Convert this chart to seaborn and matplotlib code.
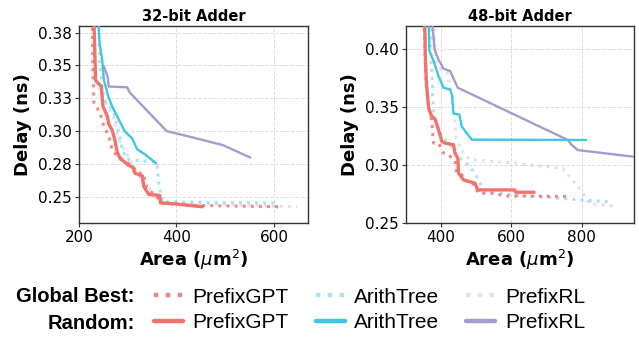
import matplotlib
matplotlib.use("Agg")
import matplotlib.pyplot as plt
from matplotlib.lines import Line2D
from matplotlib.ticker import FormatStrFormatter
import seaborn as sns

# ---- 32-bit adder (area um^2, delay ns) ----
gpt_rand_32_x = [230.7, 234, 238, 246, 249, 258, 261.5, 268, 273.7, 278.5, 285.3, 292, 302, 310.5,
                 314.6, 329.7, 333, 343.3, 365.8, 367.2, 400, 453]
gpt_rand_32_y = [0.385, 0.339, 0.337, 0.334, 0.319, 0.3115, 0.305, 0.301, 0.293, 0.284, 0.2786, 0.277,
                 0.274, 0.2725, 0.268, 0.266, 0.2577, 0.2518, 0.251, 0.2454, 0.2445, 0.2424]
gpt_best_32_x = [227.3, 228.7, 230.7, 237.5, 244.4, 251, 261.4, 268, 280.5, 297.6, 311, 318, 332, 339,
                 352, 366, 372, 430, 615]
gpt_best_32_y = [0.385, 0.3443, 0.3214, 0.3176, 0.3125, 0.3036, 0.296, 0.2857, 0.2805, 0.2765, 0.273,
                 0.2686, 0.2676, 0.2575, 0.2525, 0.2475, 0.245, 0.2435, 0.2424]
arith_rand_32_x = [239.6, 242.3, 247.8, 251, 260, 268, 281.9, 294.2, 309, 319.4, 336.5, 358.3]
arith_rand_32_y = [0.385, 0.3665, 0.354, 0.3393, 0.3265, 0.319, 0.3087, 0.2997, 0.2946, 0.2862, 0.282,
                   0.2755]
arith_best_32_x = [240, 242.3, 251, 264.8, 271.7, 281.9, 288.7, 299, 322.8, 357, 360.4, 363.8, 369.2,
                   370.6, 605]
arith_best_32_y = [0.385, 0.3495, 0.324, 0.3176, 0.3138, 0.2985, 0.2857, 0.2786, 0.2776, 0.2768, 0.273,
                   0.2602, 0.25, 0.2462, 0.2454]
rl_rand_32_x = [251, 259, 261, 299, 304, 380, 425, 495.6, 551.5]
rl_rand_32_y = [0.3495, 0.341, 0.334, 0.3334, 0.3295, 0.300, 0.296, 0.2893, 0.2799]
rl_best_32_x = [234, 250, 270, 280, 297, 320, 336, 350, 365, 372, 648]
rl_best_32_y = [0.339, 0.325, 0.311, 0.295, 0.283, 0.267, 0.26, 0.254, 0.249, 0.2455, 0.2424]

# ---- 48-bit adder ----
gpt_rand_48_x = [353.7, 356, 359, 365, 372.5, 384, 393, 402.7, 412, 435.7, 440, 448, 450, 464, 497,
                 504.6, 610, 613, 665]
gpt_rand_48_y = [0.425, 0.39, 0.37, 0.3494, 0.343, 0.3393, 0.3306, 0.3205, 0.319, 0.3176, 0.3104,
                 0.306, 0.2931, 0.2873, 0.2844, 0.2786, 0.2786, 0.2766, 0.2766]
gpt_best_48_x = [352, 358, 368, 374, 377, 379, 393, 407.5, 420, 440, 445, 460, 464, 497, 506.5, 550,
                 582, 760]
gpt_best_48_y = [0.425, 0.37, 0.345, 0.3379, 0.325, 0.319, 0.319, 0.3104, 0.309, 0.304, 0.293, 0.2915,
                 0.2873, 0.283, 0.2757, 0.2757, 0.2734, 0.273]
arith_rand_48_x = [365, 367, 379, 393, 407.5, 426, 431, 435.7, 452.7, 459, 473, 487.6, 813]
arith_rand_48_y = [0.425, 0.3986, 0.39, 0.3769, 0.3668, 0.3653, 0.361, 0.3445, 0.3436, 0.3335, 0.3277,
                   0.322, 0.3217]
arith_best_48_x = [370, 372, 375, 376, 379, 388.6, 402.7, 426, 440, 459.3, 483, 502, 516, 525, 600,
                   709, 800, 888]
arith_best_48_y = [0.425, 0.391, 0.377, 0.362, 0.345, 0.3335, 0.3248, 0.3176, 0.3104, 0.3046, 0.2988,
                   0.29, 0.2815, 0.2786, 0.2745, 0.272, 0.270, 0.2682]
rl_rand_48_x = [374.4, 382, 393, 407.5, 426, 448, 761, 770, 789, 950]
rl_rand_48_y = [0.425, 0.40, 0.391, 0.3832, 0.3812, 0.3668, 0.3217, 0.318, 0.313, 0.3072]
rl_best_48_x = [380, 384, 400, 418, 432, 440, 442, 455, 469, 487.6, 610, 747, 760, 799, 822, 902]
rl_best_48_y = [0.425, 0.39, 0.383, 0.3795, 0.36, 0.345, 0.325, 0.315, 0.3075, 0.3046, 0.3017, 0.2971,
                0.292, 0.2783, 0.2668, 0.2644]

methods = ["PrefixGPT", "ArithTree", "PrefixRL"]
colors = {"PrefixGPT": "#F2726C", "ArithTree": "#3EC6E6", "PrefixRL": "#A49CCF"}
rand_lw = {"PrefixGPT": 2.4, "ArithTree": 1.7, "PrefixRL": 1.7}
best_alpha = {"PrefixGPT": 0.85, "ArithTree": 0.45, "PrefixRL": 0.3}

panels = [
    {
        "title": "32-bit Adder",
        "series": {
            "PrefixGPT": ((gpt_best_32_x, gpt_best_32_y), (gpt_rand_32_x, gpt_rand_32_y)),
            "ArithTree": ((arith_best_32_x, arith_best_32_y), (arith_rand_32_x, arith_rand_32_y)),
            "PrefixRL": ((rl_best_32_x, rl_best_32_y), (rl_rand_32_x, rl_rand_32_y)),
        },
        "xlim": (200, 670), "ylim": (0.23, 0.38),
        "xticks": [200, 400, 600], "yticks": [0.25, 0.275, 0.30, 0.325, 0.35, 0.375],
        "pos": [0.1236, 0.342, 0.3584, 0.581],
    },
    {
        "title": "48-bit Adder",
        "series": {
            "PrefixGPT": ((gpt_best_48_x, gpt_best_48_y), (gpt_rand_48_x, gpt_rand_48_y)),
            "ArithTree": ((arith_best_48_x, arith_best_48_y), (arith_rand_48_x, arith_rand_48_y)),
            "PrefixRL": ((rl_best_48_x, rl_best_48_y), (rl_rand_48_x, rl_rand_48_y)),
        },
        "xlim": (300, 950), "ylim": (0.25, 0.42),
        "xticks": [400, 600, 800], "yticks": [0.25, 0.30, 0.35, 0.40],
        "pos": [0.635, 0.342, 0.3577, 0.581],
    },
]

sns.set_theme(style="ticks")
plt.rcParams.update({
    "font.family": ["DejaVu Sans"],
    "mathtext.fontset": "dejavusans",
    "text.color": "black",
    "axes.labelcolor": "black",
    "xtick.color": "black",
    "ytick.color": "black",
})

legend_family = "Liberation Sans"
legend_size = 15

fig = plt.figure(figsize=(6.39, 3.39), dpi=100)

for panel in panels:
    ax = fig.add_axes(panel["pos"])
    # dotted (global best) below, solid (random) on top
    for m in methods[::-1]:
        (bx, by), _ = panel["series"][m]
        sns.lineplot(x=bx, y=by, ax=ax, sort=False, estimator=None, color=colors[m],
                     linestyle=":", linewidth=2.2, alpha=best_alpha[m], zorder=2)
    for m in methods[::-1]:
        _, (rx, ry) = panel["series"][m]
        sns.lineplot(x=rx, y=ry, ax=ax, sort=False, estimator=None, color=colors[m],
                     linewidth=rand_lw[m], zorder=3)
    ax.set_xlim(*panel["xlim"])
    ax.set_ylim(*panel["ylim"])
    ax.set_xticks(panel["xticks"])
    ax.set_yticks(panel["yticks"])
    ax.yaxis.set_major_formatter(FormatStrFormatter("%.2f"))
    ax.tick_params(labelsize=11, length=3, width=0.8, color="#333333", pad=2)
    ax.grid(True, linestyle="--", color="#DDDDDD", linewidth=0.7)
    ax.set_axisbelow(True)
    for spine in ax.spines.values():
        spine.set_visible(True)
        spine.set_color("#333333")
        spine.set_linewidth(1.0)
    ax.set_title(panel["title"], fontsize=10.5, fontweight="bold", pad=4)
    ax.set_xlabel(r"Area ($\mu$m$^2$)", fontsize=13, fontweight="bold", labelpad=2)
    ax.set_ylabel("Delay (ns)", fontsize=13, fontweight="bold", labelpad=4)

# legend: column-major order -> (best, random) per method
handles, labels = [], []
for m in methods:
    handles.append(Line2D([], [], color=colors[m], linestyle=":", linewidth=3.2,
                          alpha=best_alpha[m]))
    labels.append(m)
    handles.append(Line2D([], [], color=colors[m], linewidth=3.2))
    labels.append(m)

fig.legend(handles, labels, ncol=3, loc="center", bbox_to_anchor=(0.578, 0.0855),
           frameon=False, handlelength=1.4, handletextpad=0.45, columnspacing=1.3,
           labelspacing=0.32, borderpad=0, prop={"family": legend_family, "size": legend_size})
fig.text(0.211, 0.1239, "Global Best:", ha="right", va="center", fontsize=14.5,
         fontweight="bold", family=legend_family)
fig.text(0.211, 0.0457, "Random:", ha="right", va="center", fontsize=14.5,
         fontweight="bold", family=legend_family)

fig.savefig("out.png", dpi=100)
